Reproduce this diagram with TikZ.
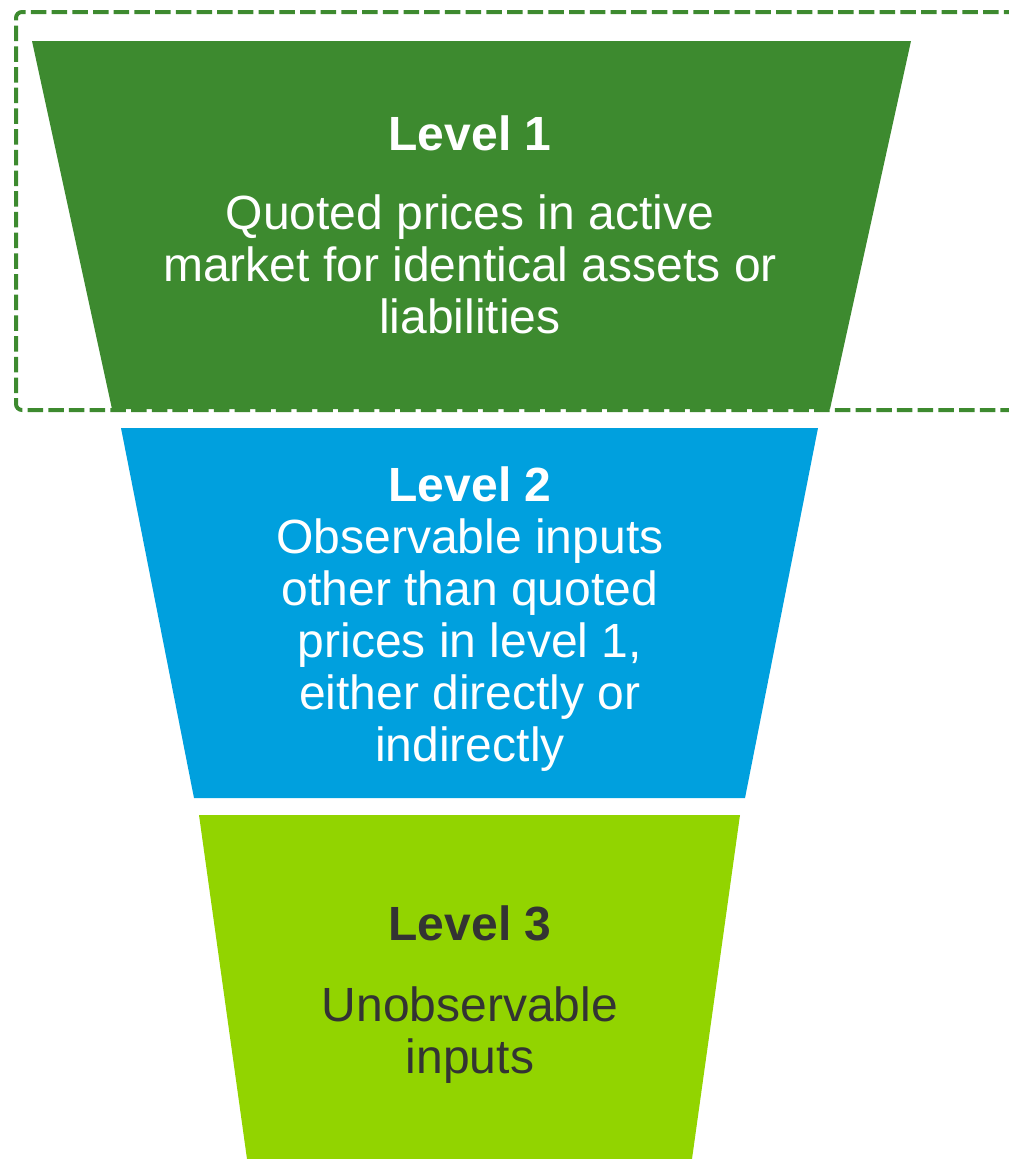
\documentclass[tikz,border=0pt]{standalone}
\usepackage{fontspec}
\setmainfont{Liberation Sans}
\definecolor{lvlone}{HTML}{3D8A2F}
\definecolor{lvltwo}{HTML}{00A0DE}
\definecolor{lvlthree}{HTML}{92D400}
\definecolor{darktext}{HTML}{333333}
\begin{document}
\begin{tikzpicture}[x=1pt,y=-1pt,
  tier/.style={draw=none},
  headtext/.style={font=\fontsize{48}{52}\bfseries\selectfont, inner sep=0pt, anchor=base},
  bodytext/.style={font=\fontsize{48}{52}\selectfont, inner sep=0pt, anchor=north, align=center},
  frame/.style={draw=lvlone, line width=4pt, dash pattern=on 15.5pt off 5.2pt, rounded corners=6pt}
]
\useasboundingbox (0,0) rectangle (1009,1159);
\clip (0,0) rectangle (1009,1159);
% tiers
\fill[lvlone]   (32,41)  -- (911,41)  -- (830,409) -- (112,409) -- cycle;
\fill[lvltwo]   (121,428) -- (818,428) -- (745,798) -- (194,798) -- cycle;
\fill[lvlthree] (199,815) -- (740,815) -- (692,1159) -- (247,1159) -- cycle;
% dashed frame
\draw[frame] (1040,12) -- (16,12) -- (16,410) -- (1040,410);
% texts
\node[headtext, text=white] (h1) at (470,150) {Level 1};
\node[bodytext, text=white] (b1) at (470,229-36.4) {\strut Quoted prices in active\\\strut market for identical assets or\\\strut liabilities};
\node[headtext, text=white] (h2) at (470,501) {Level 2};
\node[bodytext, text=white] (b2) at (470,553-36.4) {\strut Observable inputs\\\strut other than quoted\\\strut prices in level 1,\\\strut either directly or\\\strut indirectly};
\node[headtext, text=darktext] (h3) at (470,940) {Level 3};
\node[bodytext, text=darktext] (b3) at (470,1021-36.4) {\strut Unobservable\\\strut inputs};
\end{tikzpicture}
\end{document}
